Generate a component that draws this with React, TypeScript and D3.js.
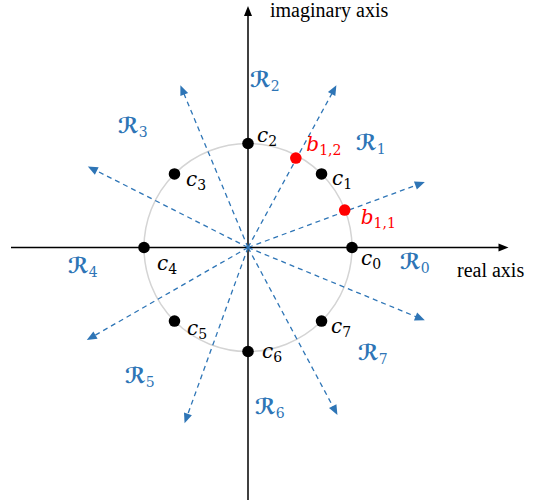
import React from "react";
import * as d3 from "d3";

// Roots c_k on the unit circle (real, imaginary parts)
const rootIndex = ["0", "1", "2", "3", "4", "5", "6", "7"];
const rootRe = [1, 0.707, 0, -0.707, -1, -0.707, 0, 0.707];
const rootIm = [0, 0.707, 1, 0.707, 0, -0.707, -1, -0.707];

// Boundary rays of the decision regions: tip of each dashed arrow
const rayRe = [1.7, 0.85, -0.65, -1.54, -1.55, -0.61, 0.86, 1.7];
const rayIm = [0.63, 1.56, 1.56, 0.78, -0.89, -1.69, -1.61, -0.7];

// Boundary points b_{1,1}, b_{1,2}
const boundaryIndex = ["1,1", "1,2"];
const boundaryRe = [0.93, 0.46];
const boundaryIm = [0.36, 0.86];

// Region names R_0 … R_7
const regionIndex = ["0", "1", "2", "3", "4", "5", "6", "7"];

// ---- layout ----
const W = 538;
const H = 504;
const CX = 248;
const CY = 247.5;
const RADIUS = 104;

// label offsets (px) from each root dot: [dx, dy to baseline]
const rootLabelOffset: [number, number][] = [
  [9, 17.5],
  [10.5, 11],
  [9, -1.8],
  [11.5, 12],
  [13, 22.5],
  [12.5, 14],
  [14, 6.5],
  [9.5, 12],
];
const boundaryLabelOffset: [number, number][] = [
  [16, 13.5],
  [10.5, -7.5],
];
// region label anchors (px): [left, baseline]
const regionLabelPos: [number, number][] = [
  [400, 269],
  [356, 150],
  [250, 86.5],
  [118, 133],
  [68, 272.5],
  [125, 382.5],
  [255, 414],
  [358, 360],
];

const BLUE = "#2E75B6";
const RED = "#FF0000";

export default function App() {
  const x = d3.scaleLinear().domain([-1, 1]).range([CX - RADIUS, CX + RADIUS]);
  const y = d3.scaleLinear().domain([-1, 1]).range([CY + RADIUS, CY - RADIUS]);

  const arrowHead = (x0: number, y0: number, x1: number, y1: number, len: number, half: number) => {
    const a = Math.atan2(y1 - y0, x1 - x0);
    const bx = x1 - len * Math.cos(a);
    const by = y1 - len * Math.sin(a);
    const px = -Math.sin(a) * half;
    const py = Math.cos(a) * half;
    return `M${x1},${y1}L${bx + px},${by + py}L${bx - px},${by - py}Z`;
  };

  const mathFont = "'DejaVu Serif', 'DejaVu Sans', serif";
  const textFont = "'Liberation Serif', 'Times New Roman', serif";

  // axis extents (px)
  const xLeft = 11;
  const xTip = 508.5;
  const yTop = 6;
  const yBottom = 500;

  return (
    <svg width={W} height={H} style={{ position: "absolute", left: 0, top: 0, background: "#fff" }}>
      {/* unit circle */}
      <circle
        cx={x(0)}
        cy={y(0)}
        r={x(1) - x(0)}
        fill="none"
        stroke="#D4D4D4"
        strokeWidth={1.5}
      />

      {/* axes */}
      <line x1={xLeft} y1={y(0)} x2={xTip - 8} y2={y(0)} stroke="#000" strokeWidth={1.5} />
      <path d={arrowHead(xLeft, y(0), xTip, y(0), 10, 4)} fill="#000" />
      <line x1={x(0)} y1={yBottom} x2={x(0)} y2={yTop + 8} stroke="#000" strokeWidth={1.5} />
      <path d={arrowHead(x(0), yBottom, x(0), yTop, 10, 4)} fill="#000" />

      <text x={270} y={17} fontFamily={textFont} fontSize={20} fill="#000">
        imaginary axis
      </text>
      <text x={457} y={277} fontFamily={textFont} fontSize={20} fill="#000">
        real axis
      </text>

      {/* region boundary rays */}
      {rayRe.map((re, i) => {
        const x1 = x(re);
        const y1 = y(rayIm[i]);
        const a = Math.atan2(y1 - y(0), x1 - x(0));
        return (
          <g key={`ray${i}`}>
            <line
              x1={x(0)}
              y1={y(0)}
              x2={x1 - 8 * Math.cos(a)}
              y2={y1 - 8 * Math.sin(a)}
              stroke={BLUE}
              strokeWidth={1.3}
              strokeDasharray="5,4"
            />
            <path d={arrowHead(x(0), y(0), x1, y1, 10, 4.2)} fill={BLUE} />
          </g>
        );
      })}

      {/* roots */}
      {rootRe.map((re, i) => (
        <circle key={`c${i}`} cx={x(re)} cy={y(rootIm[i])} r={5.8} fill="#000" />
      ))}
      {rootRe.map((re, i) => (
        <text
          key={`cl${i}`}
          x={x(re) + rootLabelOffset[i][0]}
          y={y(rootIm[i]) + rootLabelOffset[i][1]}
          fontFamily={mathFont}
          fill="#000"
        >
          <tspan fontStyle="italic" fontSize={20}>c</tspan>
          <tspan fontSize={14} dy={4}>{rootIndex[i]}</tspan>
        </text>
      ))}

      {/* boundary points */}
      {boundaryRe.map((re, i) => (
        <circle key={`b${i}`} cx={x(re)} cy={y(boundaryIm[i])} r={5.8} fill={RED} />
      ))}
      {boundaryRe.map((re, i) => (
        <text
          key={`bl${i}`}
          x={x(re) + boundaryLabelOffset[i][0]}
          y={y(boundaryIm[i]) + boundaryLabelOffset[i][1]}
          fontFamily={mathFont}
          fill={RED}
        >
          <tspan fontStyle="italic" fontSize={20}>b</tspan>
          <tspan fontSize={14} dy={4}>{boundaryIndex[i]}</tspan>
        </text>
      ))}

      {/* region names */}
      {regionIndex.map((k, i) => (
        <text
          key={`r${i}`}
          x={regionLabelPos[i][0]}
          y={regionLabelPos[i][1]}
          fontFamily={mathFont}
          fill={BLUE}
        >
          <tspan fontSize={22} fontWeight="bold">ℛ</tspan>
          <tspan fontSize={14} dy={4}>{k}</tspan>
        </text>
      ))}
    </svg>
  );
}
